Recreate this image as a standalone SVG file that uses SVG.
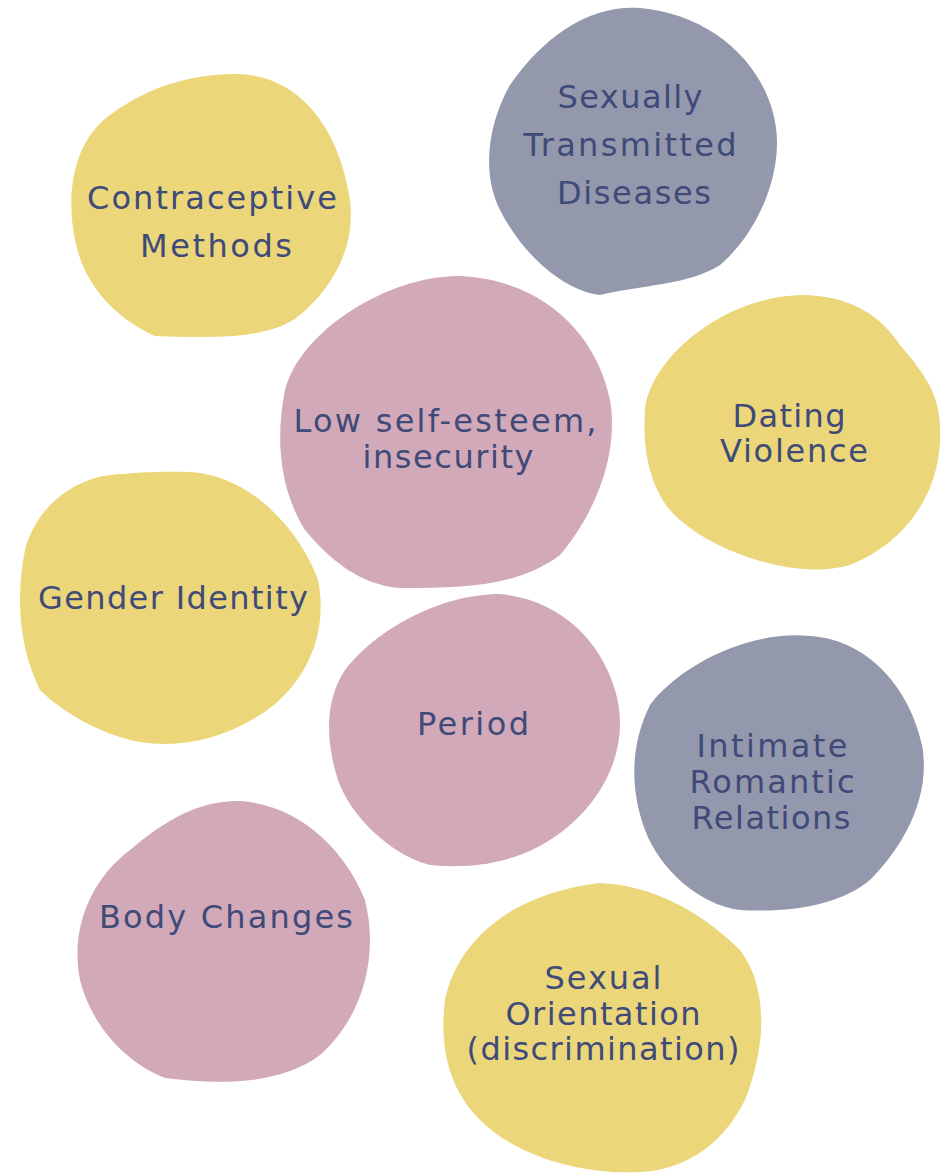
<svg xmlns="http://www.w3.org/2000/svg" width="944" height="1173" viewBox="0 0 944 1173">
<style>
.y{fill:#EBD67A}.p{fill:#D2A9B9}.g{fill:#9398AC}
text{font-family:"DejaVu Sans","Liberation Sans",sans-serif;font-size:32px;fill:#3F4A78;text-anchor:middle}
</style>
<rect width="944" height="1173" fill="#ffffff"/>
<g id="n-contraceptive"><path class="y" d="M 235 74 C 300 74, 340 130, 350 200 C 356 250, 330 290, 300 315 C 270 340, 210 338, 155 336 C 120 320, 85 290, 75 240 C 65 190, 75 140, 110 115 C 150 85, 195 74, 235 74 Z"/><text x="212" y="209" textLength="250" lengthAdjust="spacing">Contraceptive</text><text x="216" y="257" textLength="152" lengthAdjust="spacing">Methods</text></g>
<g id="n-std"><path class="g" d="M 640 8 C 720 15, 775 75, 777 140 C 778 190, 750 240, 720 265 C 690 285, 640 285, 600 295 C 560 290, 520 250, 500 210 C 480 170, 490 120, 510 85 C 545 35, 590 5, 640 8 Z"/><text x="630" y="108" textLength="145" lengthAdjust="spacing">Sexually</text><text x="630" y="156" textLength="213" lengthAdjust="spacing">Transmitted</text><text x="634" y="204" textLength="154" lengthAdjust="spacing">Diseases</text></g>
<g id="n-selfesteem"><path class="p" d="M 460 276 C 540 280, 595 330, 610 400 C 620 460, 590 520, 560 555 C 520 585, 470 588, 400 588 C 360 585, 330 560, 305 530 C 280 490, 275 440, 285 390 C 300 330, 390 275, 460 276 Z"/><text x="445" y="432" textLength="303" lengthAdjust="spacing">Low self-esteem,</text><text x="448" y="468" textLength="171" lengthAdjust="spacing">insecurity</text></g>
<g id="n-dating"><path class="y" d="M 800 295 C 850 295, 880 315, 900 345 C 930 380, 942 400, 940 440 C 938 500, 900 545, 850 565 C 800 580, 720 555, 680 520 C 650 495, 642 450, 645 410 C 650 360, 720 298, 800 295 Z"/><text x="789" y="427" textLength="113" lengthAdjust="spacing">Dating</text><text x="794" y="462" textLength="148" lengthAdjust="spacing">Violence</text></g>
<g id="n-gender"><path class="y" d="M 190 472 C 250 475, 300 530, 318 580 C 330 640, 300 690, 260 715 C 220 740, 180 748, 140 742 C 100 735, 60 710, 40 690 C 20 650, 15 600, 25 550 C 35 510, 70 480, 110 475 C 140 472, 165 471, 190 472 Z"/><text x="173" y="609" textLength="270" lengthAdjust="spacing">Gender Identity</text></g>
<g id="n-period"><path class="p" d="M 500 594 C 560 600, 600 640, 615 690 C 630 740, 610 790, 570 825 C 530 860, 480 870, 430 865 C 390 855, 350 815, 338 780 C 325 740, 325 700, 345 670 C 375 630, 440 594, 500 594 Z"/><text x="473" y="735" textLength="112" lengthAdjust="spacing">Period</text></g>
<g id="n-intimate"><path class="g" d="M 810 636 C 870 640, 910 690, 922 745 C 932 800, 900 850, 870 880 C 840 905, 790 913, 740 910 C 700 905, 660 870, 645 830 C 630 790, 630 745, 650 705 C 680 665, 750 630, 810 636 Z"/><text x="772" y="757" textLength="151" lengthAdjust="spacing">Intimate</text><text x="772" y="793" textLength="165" lengthAdjust="spacing">Romantic</text><text x="771" y="829" textLength="159" lengthAdjust="spacing">Relations</text></g>
<g id="n-body"><path class="p" d="M 240 801 C 300 805, 345 850, 365 900 C 380 960, 360 1020, 320 1055 C 280 1085, 220 1085, 165 1078 C 120 1060, 90 1020, 80 980 C 70 930, 90 880, 130 850 C 165 820, 200 800, 240 801 Z"/><text x="226" y="928" textLength="254" lengthAdjust="spacing">Body Changes</text></g>
<g id="n-orientation"><path class="y" d="M 600 883 C 650 885, 700 910, 740 950 C 770 990, 765 1050, 745 1100 C 720 1150, 680 1170, 640 1172 C 590 1175, 520 1160, 480 1120 C 445 1085, 440 1040, 445 1000 C 455 950, 500 895, 600 883 Z"/><text x="603" y="989" textLength="117" lengthAdjust="spacing">Sexual</text><text x="603" y="1025" textLength="195" lengthAdjust="spacing">Orientation</text><text x="603" y="1060" textLength="273" lengthAdjust="spacing">(discrimination)</text></g>
<g id="connectors"/>
</svg>
